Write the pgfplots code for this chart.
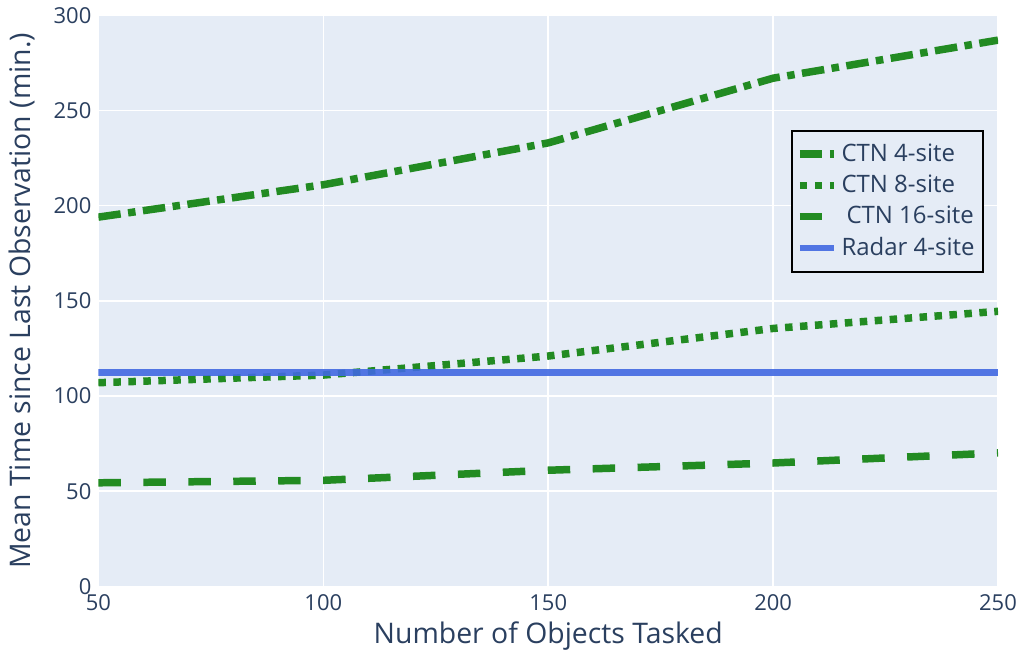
\documentclass[border=0pt]{standalone}
\usepackage{fontspec}
\setmainfont{Open Sans}
\usepackage{pgfplots}
\pgfplotsset{compat=1.18}
\definecolor{bgcol}{HTML}{E5ECF6}
\definecolor{txt}{HTML}{2A3F5F}
\definecolor{ctn}{HTML}{228B22}
\definecolor{radar}{HTML}{4169E1}
\begin{document}
\begin{tikzpicture}
\begin{axis}[
  at={(0,0)}, anchor=south west,
  scale only axis, width=450.25pt, height=285.75pt,
  xmin=50, xmax=250, ymin=0, ymax=300,
  xtick={50,100,150,200,250}, ytick={0,50,100,150,200,250,300},
  /pgf/number format/assume math mode=true,
  axis background/.style={fill=bgcol},
  axis line style={draw=none},
  tick style={draw=none},
  grid=major, major grid style={white, line width=0.8pt},
  ticklabel style={font=\fontsize{11}{13}\selectfont, text=txt},
  xticklabel style={yshift=-0.5pt},
  yticklabel style={xshift=0pt},
  xlabel={Number of Objects Tasked},
  ylabel={Mean Time since Last Observation (min.)},
  label style={font=\fontsize{14.2}{16}\selectfont, text=txt},
  xlabel style={at={(axis description cs:0.5,0)}, anchor=center, yshift=-25pt},
  ylabel style={at={(axis description cs:-0.085,0.5)}, anchor=center},
  legend cell align=left,
  legend image code/.code={\draw[#1] (0pt,0pt) -- (17pt,0pt);},
  legend style={at={(axis description cs:0.770,0.7995)}, anchor=north west,
    draw=black, line width=1pt, fill=bgcol, font=\fontsize{12}{14}\selectfont, text=txt,
    row sep=1.3pt, inner xsep=2pt, inner ysep=4.5pt},
]
\addplot[ctn, line width=3.75pt, dash pattern=on 11.25pt off 3.75pt on 3.75pt off 3.75pt]
  coordinates {(50,194) (100,211) (150,233) (200,267) (250,287)};
\addlegendentry{CTN 4-site}
\addplot[ctn, line width=3.75pt, dash pattern=on 3.75pt off 3.75pt]
  coordinates {(50,107) (100,111) (150,121) (200,135.5) (250,144.5)};
\addlegendentry{CTN 8-site}
\addplot[ctn, line width=3.75pt, dash pattern=on 11.25pt off 11.25pt]
  coordinates {(50,54.4) (100,55.7) (150,61) (200,64.8) (250,70.1)};
\addlegendentry{\hspace{2.5pt}CTN 16-site}
\addplot[radar, line width=3.5pt, opacity=0.9]
  coordinates {(50,112.2) (250,112.2)};
\addlegendentry{Radar 4-site}
\end{axis}
\pgfresetboundingbox
\path (-49.25pt,-34pt) rectangle (462.25pt,293.45pt);
\end{tikzpicture}
\end{document}
